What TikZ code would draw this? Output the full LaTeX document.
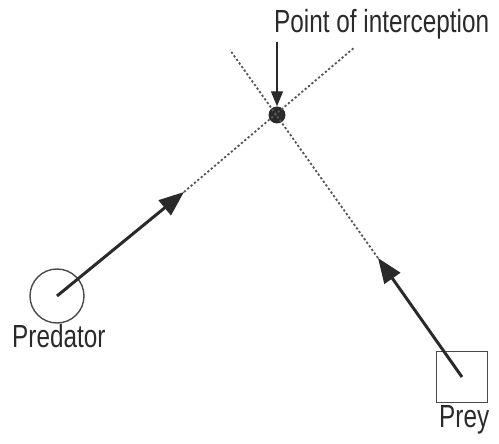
\documentclass[tikz,border=0pt]{standalone}
\usepackage{fontspec}
\setmainfont{Liberation Sans}[FakeStretch=0.76]
\usetikzlibrary{arrows.meta}
\definecolor{ink}{HTML}{2A2A2A}
\tikzset{
  lbl/.style={font=\fontsize{32}{36}\selectfont, text=ink, inner sep=0pt, anchor=base west},
  bigarrow/.style={draw=ink, line width=3pt, -{Triangle[length=25pt,width=19pt]}},
  dots/.style={draw=ink!80, line width=1.8pt, dash pattern=on 2.2pt off 2.2pt},
  outline/.style={draw=ink!85, line width=1.4pt}
}
\begin{document}
\begin{tikzpicture}[x=1pt,y=-1pt]
\useasboundingbox (0,0) rectangle (499,444);
% bodies
\node[outline, circle, minimum size=54pt, inner sep=0pt] (pred) at (57,296) {};
\node[outline, rectangle, minimum size=51pt, inner sep=0pt] (prey) at (462,377) {};
\node[circle, fill=ink, minimum size=17pt, inner sep=0pt] (hit) at (277,115) {};
% coordinates
\coordinate (predtip) at (184,192);
\coordinate (preytip) at (378,258);
\coordinate (predend) at (355,47);
\coordinate (preyend) at (230,50);
\coordinate (labtop) at (277,42);
% dotted paths
\draw[dots] (predtip) -- (predend);
\draw[dots] (preytip) -- (preyend);
% motion arrows
\draw[bigarrow] (pred.center) -- (predtip);
\draw[bigarrow] (prey.center) -- (preytip);
% labels
\node[lbl] (plab) at (12,347) {Predator};
\node[lbl] (ylab) at (439,427) {Prey};
\node[lbl] (ilab) at (274,33) {Point of interception};
\draw[draw=ink, line width=1.4pt, -{Triangle[length=15pt,width=12pt]}] (labtop) -- (hit.north);
\end{tikzpicture}
\end{document}
